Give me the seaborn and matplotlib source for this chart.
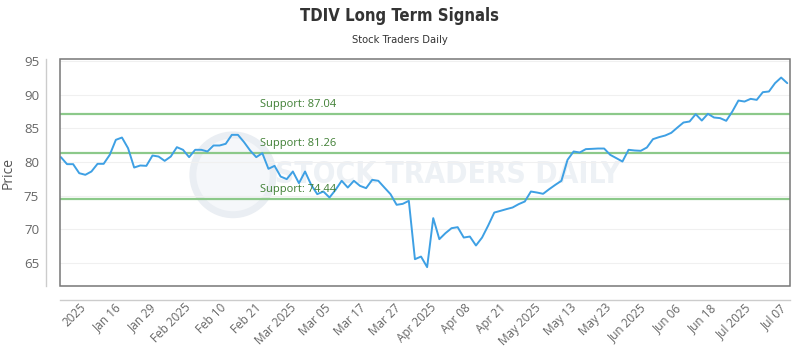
import matplotlib.pyplot as plt
import matplotlib.patches as mpatches
import numpy as np
import pandas as pd
import seaborn as sns


prices = [
    80.71, 79.67, 79.67, 78.33, 78.09, 78.58, 79.72, 79.72, 81.05, 83.28,
    83.62, 82.04, 79.17, 79.47, 79.42, 80.95, 80.80, 80.16, 80.80, 82.19,
    81.80, 80.71, 81.80, 81.80, 81.55, 82.44, 82.44, 82.69, 84.02, 84.02,
    82.94, 81.70, 80.71, 81.30, 78.98, 79.42, 77.83, 77.45, 78.58, 76.85,
    78.58, 76.60, 75.22, 75.61, 74.72, 75.86, 77.20, 76.20, 77.20, 76.45,
    76.11, 77.34, 77.20, 76.20, 75.22,
    73.64, 73.78, 74.23, 65.57, 65.96, 64.39, 71.66, 68.54, 69.43, 70.17,
    70.32, 68.78, 68.93, 67.60, 68.78, 70.56, 72.49, 72.74, 73.00, 73.24,
    73.74, 74.13, 75.61, 75.46, 75.27, 75.96, 76.60, 77.20, 80.31, 81.55,
    81.40, 81.90, 81.94, 81.99, 81.99, 81.05, 80.56, 80.06, 81.80, 81.70,
    81.65, 82.14, 83.38, 83.68, 83.92, 84.32, 85.10, 85.85, 86.00, 87.09,
    86.14, 87.14, 86.59, 86.50, 86.10, 87.48, 89.11, 88.96, 89.36, 89.21,
    90.35, 90.45, 91.69, 92.52, 91.69,
]

tick_labels = [
    "2025", "Jan 16", "Jan 29", "Feb 2025", "Feb 10", "Feb 21", "Mar 2025",
    "Mar 05", "Mar 17", "Mar 27", "Apr 2025", "Apr 08", "Apr 21", "May 2025",
    "May 13", "May 23", "Jun 2025", "Jun 06", "Jun 18", "Jul 2025", "Jul 07",
]

support_levels = [87.04, 81.26, 74.44]

sns.set_theme(style="white")
plt.rcParams["font.family"] = ["Open Sans", "DejaVu Sans"]
narrow = ["DejaVu Sans"]

df = pd.DataFrame({"idx": np.arange(len(prices)), "price": prices})

fig = plt.figure(figsize=(8, 3.5), dpi=100)
ax = fig.add_axes([0.075, 0.183, 0.9125, 0.648])

# spines first: set_position resets the tick settings
for side in ["top", "right"]:
    ax.spines[side].set_visible(False)
for side in ["left", "bottom"]:
    ax.spines[side].set_position(("outward", 10))
    ax.spines[side].set_color("#cccccc")
    ax.spines[side].set_linewidth(1)

# watermark
ax.add_patch(mpatches.Ellipse((0.237, 0.49), 0.11, 0.352, transform=ax.transAxes,
                              fc="#f5f7fa", ec="#eaeef3", lw=5, zorder=0))
ax.text(0.295, 0.49, "STOCK TRADERS DAILY", transform=ax.transAxes,
        family=narrow, fontstretch="condensed", fontsize=21.5,
        fontweight="bold", color="#edf1f5", ha="left", va="center", zorder=0)

sns.lineplot(data=df, x="idx", y="price", color="#3ea0e4", linewidth=1.4,
             ax=ax, zorder=3)

for level in support_levels:
    ax.axhline(level, color="#8cc98a", linewidth=1.6, zorder=2)
    ax.text(0.274, level + 0.6, f"Support: {level:.2f}",
            transform=ax.get_yaxis_transform(), color="#3f7f34",
            fontsize=8, ha="left", va="bottom", zorder=4)

ax.set_xlim(-0.15, len(prices) - 1 + 0.45)
ax.set_ylim(61.6, 95.25)
ax.set_yticks([65, 70, 75, 80, 85, 90, 95])
ax.yaxis.grid(True, color="#f0f0f0", linewidth=0.8)
ax.xaxis.grid(False)

tick_pos = 3.0 + np.arange(len(tick_labels)) * 5.74
ax.set_xticks(tick_pos)
ax.set_xticklabels(tick_labels, rotation=45, ha="right",
                   rotation_mode="anchor", fontsize=8.5, color="#666666")
ax.tick_params(axis="y", labelsize=9.5, labelcolor="#666666", length=0, pad=5)
ax.tick_params(axis="x", length=0, pad=1)

ax.set_xlabel("")
ax.set_ylabel("Price", fontsize=10, color="#555555", labelpad=6)

ax.add_patch(mpatches.Rectangle((0, 0), 1, 1, transform=ax.transAxes,
                                fill=False, ec="#777777", lw=1.1,
                                clip_on=False, zorder=5))

fig.text(0.5, 0.955, "TDIV Long Term Signals", ha="center", va="center",
         family=narrow, fontstretch="condensed", fontsize=12,
         fontweight="bold", color="#333333")
fig.text(0.5, 0.885, "Stock Traders Daily", ha="center", va="center",
         family=narrow, fontstretch="condensed", fontsize=8, color="#333333")

plt.savefig("out.png", dpi=100)
